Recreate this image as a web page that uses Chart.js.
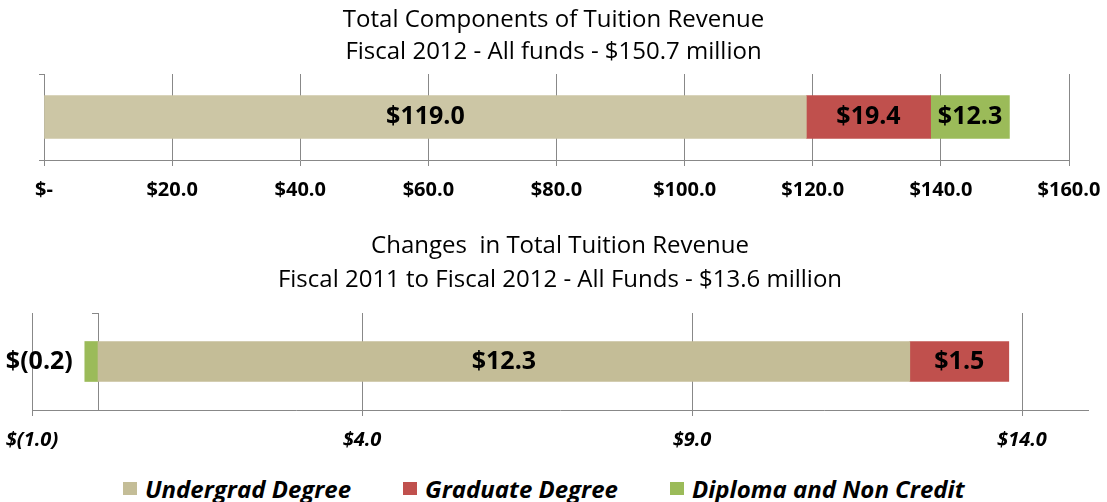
<!DOCTYPE html>
<html>
<head>
<meta charset="utf-8">
<script src="https://cdn.jsdelivr.net/npm/chart.js@4"></script>
<style>
  html, body { margin: 0; padding: 0; background: #fff; }
  #wrap { position: relative; width: 1107px; height: 502px; }
  #top-chart { position: absolute; left: 0; top: 0; }
  #bottom-chart { position: absolute; left: 0; top: 215px; }
  #legend { position: absolute; left: 123px; top: 470px; height: 36px; display: flex; align-items: center; gap: 52px;
            font: italic bold 24px 'Open Sans', Lato, sans-serif; color: #000; white-space: nowrap; }
  #legend .item { display: flex; align-items: center; }
  #legend .box { width: 14px; height: 13px; margin-right: 8px; }
</style>
</head>
<body>
<div id="wrap">
  <canvas id="top-chart" width="1107" height="215"></canvas>
  <canvas id="bottom-chart" width="1107" height="249"></canvas>
  <div id="legend"></div>
</div>
<script>
// Tuition revenue ($ millions) — total fiscal 2012 and change 2011 -> 2012
const seriesNames = ["Undergrad Degree", "Graduate Degree", "Diploma and Non Credit"];

const totalTitle = ["Total Components of Tuition Revenue", "Fiscal 2012 - All funds - $150.7 million"];
const totalValues = [119.0, 19.4, 12.3];
const totalTickValues = [0, 20, 40, 60, 80, 100, 120, 140, 160];
const totalTickLabels = ["$-", "$20.0", "$40.0", "$60.0", "$80.0", "$100.0", "$120.0", "$140.0", "$160.0"];

const changeTitle = ["Changes  in Total Tuition Revenue", "Fiscal 2011 to Fiscal 2012 - All Funds - $13.6 million"];
const changeValues = [12.3, 1.5, -0.2];
const changeTickValues = [-1, 4, 9, 14];
const changeTickLabels = ["$(1.0)", "$4.0", "$9.0", "$14.0"];

const FONT = "'Open Sans', Lato, sans-serif";
const GRID = "#888888";
const RED = "#C0504D";
const GREEN = "#9BBB59";

function money(v) {
  return v < 0 ? "$(" + Math.abs(v).toFixed(1) + ")" : "$" + v.toFixed(1);
}

// labels in the middle of each segment; negative ones sit left of the bar
const barLabels = {
  id: "barLabels",
  afterDatasetsDraw(chart) {
    const ctx = chart.ctx;
    ctx.save();
    ctx.font = "bold 25px " + FONT;
    ctx.fillStyle = "#000";
    ctx.textBaseline = "middle";
    chart.data.datasets.forEach((ds, i) => {
      chart.getDatasetMeta(i).data.forEach((bar, j) => {
        const v = ds.data[j];
        if (v < 0) {
          ctx.textAlign = "right";
          ctx.fillText(money(v), Math.min(bar.x, bar.base) - 12, bar.y);
        } else {
          ctx.textAlign = "center";
          ctx.fillText(money(v), (bar.x + bar.base) / 2, bar.y);
        }
      });
    });
    ctx.restore();
  },
};

function ticksFrom(values) {
  return (scale) => { scale.ticks = values.map((v) => ({ value: v })); };
}

// let the edge tick labels overhang instead of shrinking the plot
function noEdgePadding(scale) {
  scale.paddingLeft = 0;
  scale.paddingRight = 0;
}

new Chart(document.getElementById("top-chart"), {
  type: "bar",
  data: {
    labels: [""],
    datasets: [
      { label: seriesNames[0], data: [totalValues[0]], backgroundColor: "#CCC6A5" },
      { label: seriesNames[1], data: [totalValues[1]], backgroundColor: RED },
      { label: seriesNames[2], data: [totalValues[2]], backgroundColor: GREEN },
    ],
  },
  options: {
    indexAxis: "y",
    responsive: false,
    animation: false,
    devicePixelRatio: 1,
    datasets: { bar: { barThickness: 43 } },
    layout: { padding: { left: 38, right: 38, top: 0, bottom: 1 } },
    plugins: {
      legend: { display: false },
      tooltip: { enabled: false },
      title: {
        display: true,
        text: totalTitle,
        color: "#000",
        font: { family: FONT, size: 24, weight: "normal", lineHeight: 32 / 24 },
        padding: { top: 4, bottom: 6 },
      },
    },
    scales: {
      x: {
        stacked: true,
        min: 0,
        max: 160,
        afterBuildTicks: ticksFrom(totalTickValues),
        afterFit: noEdgePadding,
        grid: { color: GRID, tickLength: 6 },
        border: { color: GRID },
        ticks: {
          color: "#000",
          padding: 12,
          maxRotation: 0,
          font: { family: FONT, size: 20, weight: "bold" },
          callback: (v, i) => totalTickLabels[i],
        },
      },
      y: {
        stacked: true,
        afterFit: (scale) => { scale.width = 6; },
        grid: { color: GRID, drawOnChartArea: false, tickLength: 5 },
        border: { color: GRID },
        ticks: { display: false },
      },
    },
  },
  plugins: [barLabels],
});

const changeChart = new Chart(document.getElementById("bottom-chart"), {
  type: "bar",
  data: {
    labels: [""],
    datasets: [
      { label: seriesNames[0], data: [changeValues[0]], backgroundColor: "#C4BD97" },
      { label: seriesNames[1], data: [changeValues[1]], backgroundColor: RED },
      { label: seriesNames[2], data: [changeValues[2]], backgroundColor: GREEN },
    ],
  },
  options: {
    indexAxis: "y",
    responsive: false,
    animation: false,
    devicePixelRatio: 1,
    datasets: { bar: { barThickness: 40 } },
    layout: { padding: { left: 32, right: 19, top: 0, bottom: 0 } },
    plugins: {
      legend: { display: false },
      tooltip: { enabled: false },
      title: {
        display: true,
        text: changeTitle,
        color: "#000",
        font: { family: FONT, size: 24, weight: "normal", lineHeight: 34 / 24 },
        padding: { top: 14, bottom: 16 },
      },
    },
    scales: {
      x: {
        stacked: true,
        min: -1,
        max: 15,
        afterBuildTicks: ticksFrom(changeTickValues),
        afterFit: noEdgePadding,
        grid: { color: GRID, tickLength: 6 },
        border: { color: GRID },
        ticks: {
          color: "#000",
          padding: 12,
          maxRotation: 0,
          font: { family: FONT, size: 20, weight: "bold", style: "italic" },
          callback: (v, i) => changeTickLabels[i],
        },
      },
      y: {
        stacked: true,
        position: { x: 0 },
        grid: { color: GRID, drawOnChartArea: false, tickLength: 6 },
        border: { color: GRID },
        ticks: { display: false },
      },
    },
  },
  plugins: [barLabels],
});

// shared legend under both charts, built from the chart's own legend items
const legendEl = document.getElementById("legend");
Chart.defaults.plugins.legend.labels.generateLabels(changeChart).forEach((item) => {
  const el = document.createElement("div");
  el.className = "item";
  el.innerHTML = `<span class="box" style="background:${item.fillStyle}"></span><span>${item.text}</span>`;
  legendEl.appendChild(el);
});
</script>
</body>
</html>
